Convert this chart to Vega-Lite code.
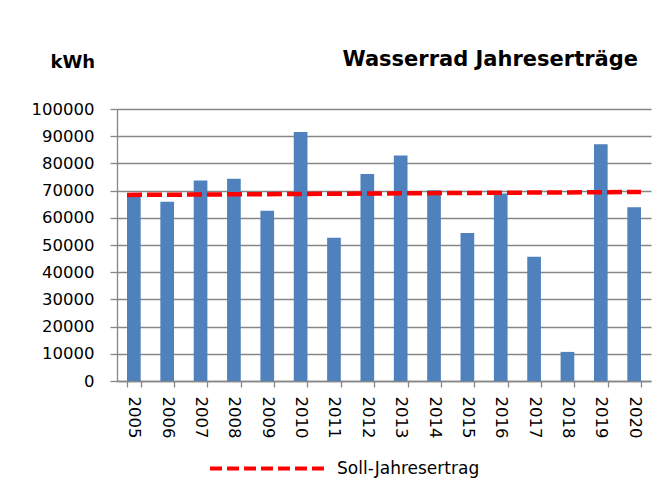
{
  "$schema": "https://vega.github.io/schema/vega-lite/v6.json",
  "width": 534,
  "height": 272,
  "autosize": {"type": "none"},
  "padding": {"left": 117, "top": 109, "right": 6, "bottom": 108},
  "background": "white",
  "config": {"view": {"stroke": null}, "font": "DejaVu Sans"},
  "title": {"text": "Wasserrad Jahreserträge", "anchor": "end", "fontSize": 21, "fontWeight": "bold", "color": "black", "baseline": "alphabetic", "offset": -34, "dx": -13, "font": "DejaVu Sans"},
  "encoding": {
    "y": {"field": "value", "type": "quantitative", "scale": {"domain": [0, 100000]},
      "axis": {"title": "kWh", "titleAngle": 0, "titleX": -67, "titleY": -42, "titleAlign": "left", "titleBaseline": "alphabetic", "titleFontSize": 18, "titleFontWeight": "bold", "titleColor": "black",
        "values": [0, 10000, 20000, 30000, 40000, 50000, 60000, 70000, 80000, 90000, 100000], "labelOverlap": false, "format": "d",
        "labelFontSize": 16.5, "labelColor": "black", "labelPadding": 16, "tickSize": 7, "tickColor": "#868686", "domainColor": "#868686", "domainWidth": 1.3, "tickWidth": 1.3,
        "gridColor": "#868686", "gridWidth": 1.3}}
  },
  "layer": [
    {
      "data": {"values": [
        {"year": "2005", "value": 67700},
        {"year": "2006", "value": 65900},
        {"year": "2007", "value": 73700},
        {"year": "2008", "value": 74400},
        {"year": "2009", "value": 62600},
        {"year": "2010", "value": 91500},
        {"year": "2011", "value": 52700},
        {"year": "2012", "value": 76100},
        {"year": "2013", "value": 82900},
        {"year": "2014", "value": 70100},
        {"year": "2015", "value": 54400},
        {"year": "2016", "value": 68900},
        {"year": "2017", "value": 45700},
        {"year": "2018", "value": 10700},
        {"year": "2019", "value": 87000},
        {"year": "2020", "value": 63900}
      ]},
      "mark": {"type": "bar", "color": "#4f81bd"},
      "encoding": {
        "x": {"field": "year", "type": "ordinal", "scale": {"paddingInner": 0.59, "paddingOuter": 0.3},
          "axis": {"title": null, "labelAngle": 90, "labelAlign": "left", "labelBaseline": "middle", "labelFontSize": 16.5, "labelColor": "black", "labelPadding": 9, "tickBand": "extent", "tickSize": 6, "tickColor": "#868686", "domainColor": "#868686", "domainWidth": 1.3, "tickWidth": 1.3, "grid": false}}
      }
    },
    {
      "data": {"values": [
        {"year": "2005", "end": "2020", "value": 68400, "value2": 69500, "series": "Soll-Jahresertrag"}
      ]},
      "mark": {"type": "rule", "strokeDash": [15, 5], "strokeWidth": 4.5},
      "encoding": {
        "x": {"field": "year", "type": "ordinal", "bandPosition": 0},
        "x2": {"field": "end", "bandPosition": 1},
        "y2": {"field": "value2"},
        "color": {"field": "series", "type": "nominal", "scale": {"range": ["#ff0000"]},
          "legend": {"orient": "none", "legendX": 91, "legendY": 300, "title": null, "symbolType": "stroke", "symbolSize": 13225, "symbolStrokeWidth": 4, "symbolDash": [12, 5], "labelFontSize": 17, "labelColor": "black", "labelOffset": 10}}
      }
    }
  ]
}
